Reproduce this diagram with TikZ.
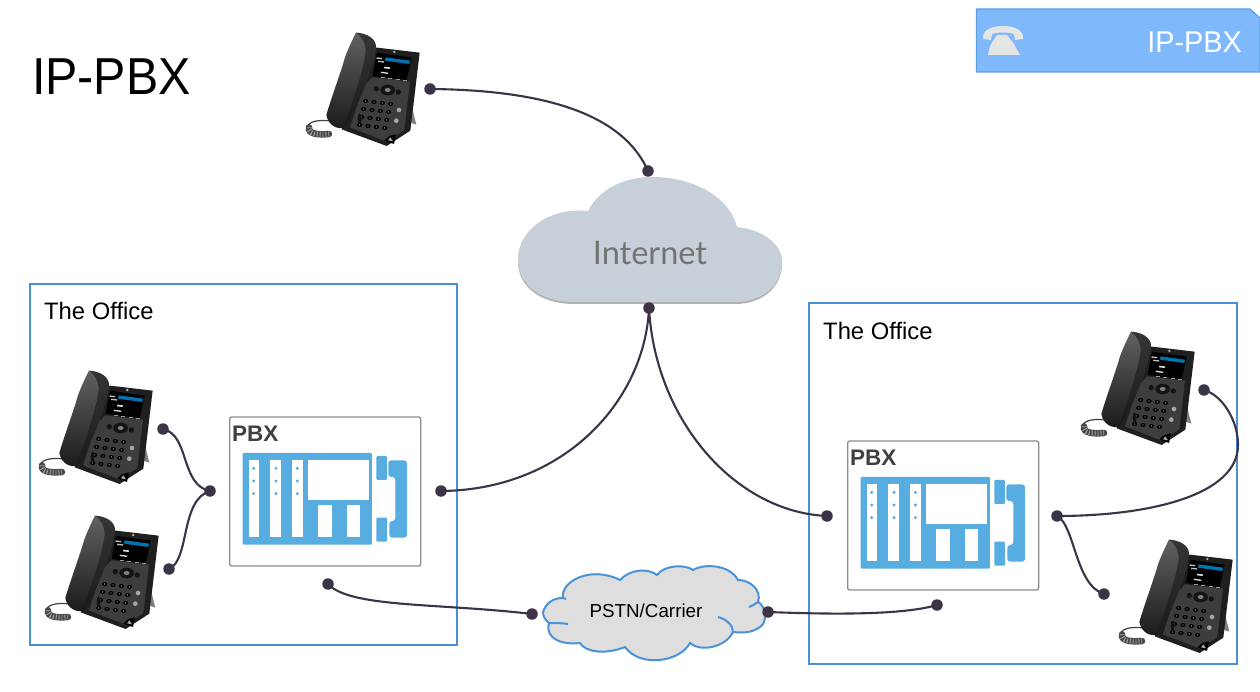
\documentclass[tikz,border=0pt]{standalone}
\usepackage{fontspec}
\setmainfont{Liberation Sans}
\newfontfamily\latofont{Lato}
\usetikzlibrary{calc}
\definecolor{wire}{HTML}{3D3346}
\definecolor{officeblue}{HTML}{4A90D9}
\definecolor{pbxblue}{HTML}{57ADE0}
\definecolor{cloudgrey}{HTML}{C7D0D8}
\definecolor{banner}{HTML}{7FB8FB}
\definecolor{bannerline}{HTML}{5FA0E0}
\definecolor{pstnfill}{HTML}{DEDEDE}
\definecolor{pstnline}{HTML}{4A93D8}
\tikzset{
  x=1pt,y=-1pt,
  office/.style={draw=officeblue,line width=2.2pt,fill=white},
  wireline/.style={draw=wire,line width=2.1pt},
  enddot/.style={circle,fill=wire,inner sep=0pt,minimum size=11.5pt},
  officelabel/.style={anchor=west,inner sep=0pt,font=\fontsize{23.8}{26}\selectfont,text=black},
  pstnstroke/.style={draw=pstnline,line width=2pt},
  phone/.pic={
    % coiled cord
    \draw[black!75,line width=1.2pt] (110,303) .. controls (80,300) and (45,300) .. (37,320);
    \draw[black!72,line width=6.5pt,line cap=round] (42,322) .. controls (38,342) and (70,345) .. (102,342);
    \draw[black!35,line width=5pt,dash pattern=on 0.9pt off 2pt] (42,322) .. controls (38,342) and (70,345) .. (102,342);
    % stand
    \fill[black!50] (345,238) -- (364,314) -- (322,300) -- (338,288) -- cycle;
    % body
    \fill[black!88] (238,82) -- (374,98) -- (346,332) -- (275,378) -- (140,328) -- (180,200) -- cycle;
    \fill[black!76] (232,172) -- (345,185) -- (328,330) -- (275,365) -- (165,322) -- (205,200) -- cycle;
    % screen
    \fill[black] (246,98) -- (350,113) -- (335,180) -- (233,168) -- cycle;
    \fill[blue!35!cyan!70!black] (272,112) -- (345,122) -- (343,132) -- (270,122) -- cycle;
    \fill[black!25] (245,112) -- (262,114) -- (261,118) -- (244,116) -- cycle;
    \fill[black!25] (250,122) -- (268,124) -- (267,128) -- (249,126) -- cycle;
    \fill[black!15] (268,140) -- (285,142) -- (284,147) -- (267,145) -- cycle;
    \fill[black!15] (258,155) -- (280,158) -- (279,162) -- (257,159) -- cycle;
    \fill[black!30] (298,96) circle (4);
    \foreach \s in {0,1,2,3}{\fill[black!40] ($(258,172)+(\s*22,\s*3)$) rectangle ++(12,3);}
    % navigation
    \fill[black!92] (278,210) ellipse (22 and 16);
    \fill[black!50] (278,210) ellipse (9 and 6);
    \fill[black!92] (244,206) circle (8);
    \fill[black!92] (310,216) circle (8);
    % keys
    \foreach \r in {0,1,2,3}{\foreach \c in {0,1,2,3}{
      \fill[black] ($(212,243)+(\c*25,\c*3)+(\r*-6,\r*24)$) ellipse (8 and 6);
      \fill[black!35] ($(212,243)+(\c*25,\c*3)+(\r*-6,\r*24)$) circle (2);
    }}
    \fill[black!92] (194,296) ellipse (6 and 16);
    \fill[black!35] (312,270) circle (7);
    \fill[black!35] (304,302) circle (7);
    \fill[black] (283,348) -- (303,343) -- (297,372) -- (268,362) -- cycle;
    \fill[black!35] (286,352) -- (294,364) -- (279,361) -- cycle;
    % handset
    \shade[left color=black!62,right color=black!90,shading angle=0] (183,38) .. controls (215,40) and (242,55) .. (243,80)
      .. controls (235,150) and (185,270) .. (148,322)
      .. controls (130,330) and (100,318) .. (94,285)
      .. controls (110,230) and (140,150) .. (150,112) .. controls (160,85) and (172,60) .. cycle;
    \fill[black!90,opacity=.6] (183,38) .. controls (215,40) and (242,55) .. (243,80)
      .. controls (235,150) and (185,270) .. (148,322) .. controls (165,260) and (205,160) .. (212,95) .. controls (212,70) and (200,48) .. cycle;
  },
  pbxunit/.pic={
    \draw[black!45,fill=white,line width=1.3pt,rounded corners=2pt] (29,21) rectangle (602,468);
    \fill[pbxblue,rounded corners=1pt] (68,129) rectangle (456,404);
    \fill[white] (86,150) rectangle (118,381);
    \fill[white] (151,150) rectangle (183,381);
    \fill[white] (217,150) rectangle (248,381);
    \fill[white] (265,150) rectangle (446,271);
    \fill[white] (293,285) rectangle (335,382);
    \fill[white] (380,285) rectangle (420,382);
    \foreach \x in {101,168,232}{\foreach \y in {175,213,251}{
      \fill[pbxblue] (\x,\y) circle (5);
    }}
    \fill[pbxblue,rounded corners=1pt] (469,138) rectangle (501,210);
    \fill[pbxblue,rounded corners=1pt] (469,323) rectangle (501,395);
    \fill[pbxblue,rounded corners=3pt] (505,151) -- (561,151) -- (561,383) -- (508,383) -- (508,333) -- (526,333) -- (526,201) -- (505,201) -- cycle;
  }
}
\begin{document}
\begin{tikzpicture}
\useasboundingbox[fill=white] (0,0) rectangle (1260,692);
% offices
\node[office,minimum width=427pt,minimum height=361pt,inner sep=0pt] (officeL) at (243.5,464.5) {};
\node[office,minimum width=428pt,minimum height=361pt,inner sep=0pt] (officeR) at (1023,483.5) {};
\node[officelabel] (officeLtext) at (44,311) {The Office};
\node[officelabel] (officeRtext) at (823,331) {The Office};
% title
\node[anchor=base west,inner sep=0pt,xscale=0.93,font=\fontsize{52}{56}\selectfont] (title) at (32,95) {IP-PBX};
% banner
\fill[banner,draw=bannerline,line width=1.2pt] (976.5,9) -- (1250,9) -- (1260,18) -- (1260,72) -- (976.5,72) -- cycle;
\node[anchor=base east,inner sep=0pt,text=white,xscale=0.96,font=\fontsize{30}{32}\selectfont] (bannertext) at (1242,53) {IP-PBX};
\fill[black!10] (988,55) -- (990,46) .. controls (992,42) and (995,38) .. (997,35) -- (1007,35) .. controls (1010,39) and (1013,42) .. (1015,46) -- (1020,55) -- cycle;
\fill[black!10] (983,39) .. controls (982,31) and (990,26) .. (1003,26) .. controls (1016,26) and (1024,31) .. (1023,39) -- (1015,40) -- (1014,34) .. controls (1008,32) and (998,32) .. (992,34) -- (991,40) -- cycle;
% phones
\pic[scale=0.3333] at (295,20) {phone};
\pic[scale=0.3333] at (28,358) {phone};
\pic[scale=0.3333] at (34,503) {phone};
\pic[scale=0.3333] at (1070,319) {phone};
\pic[scale=0.3333] at (1108,527) {phone};
% PBX units
\pic[scale=0.3333] at (220,410) {pbxunit};
\pic[scale=0.3333] at (838,434) {pbxunit};
\node[anchor=base west,inner sep=0pt,text=black!75,font=\bfseries\fontsize{22.5}{25}\selectfont] (pbxLtext) at (232,441) {PBX};
\node[anchor=base west,inner sep=0pt,text=black!75,font=\bfseries\fontsize{22.5}{25}\selectfont] (pbxRtext) at (850,465) {PBX};
% Internet cloud
\fill[black!30] (575,304) .. controls (535,304) and (517,282) .. (518,260) .. controls (519,230) and (552,209) .. (588,213)
  .. controls (600,190) and (625,179) .. (652,179) .. controls (695,179) and (730,200) .. (737,229)
  .. controls (765,232) and (783,248) .. (782,265) .. controls (781,288) and (762,304) .. (735,304) -- cycle;
\fill[cloudgrey] (575,302) .. controls (535,302) and (517,280) .. (518,258) .. controls (519,228) and (552,207) .. (588,211)
  .. controls (600,188) and (625,177) .. (652,177) .. controls (695,177) and (730,198) .. (737,227)
  .. controls (765,230) and (783,246) .. (782,263) .. controls (781,286) and (762,302) .. (735,302) -- cycle;
\node[text=black!55,inner sep=0pt,font=\latofont\fontsize{32.5}{36}\selectfont] (internet) at (650,253) {Internet};
% PSTN cloud
\filldraw[pstnstroke,fill=pstnfill]
  (543,612) .. controls (546,603) and (553,598) .. (563,598)
  .. controls (560,582) and (590,565) .. (620,580)
  .. controls (630,569) and (648,568) .. (657,575)
  .. controls (664,565) and (685,564) .. (693,570)
  .. controls (705,563) and (730,565) .. (738,580)
  .. controls (750,580) and (762,590) .. (758,602)
  .. controls (766,606) and (768,622) .. (760,627)
  .. controls (752,633) and (742,633) .. (733,632)
  .. controls (725,648) and (700,652) .. (690,643)
  .. controls (680,662) and (640,668) .. (625,647)
  .. controls (605,655) and (585,652) .. (580,643)
  .. controls (565,645) and (544,640) .. (549,623)
  .. controls (545,620) and (543,616) .. cycle;
\draw[pstnstroke] (549,623) .. controls (556,623) and (562,623) .. (568,624);
\draw[pstnstroke] (563,598) -- (566,599);
\draw[pstnstroke] (749,607) .. controls (752,606) and (755,604) .. (758,602);
\draw[pstnstroke] (718,617) .. controls (726,619) and (733,625) .. (733,632);
\node[inner sep=0pt,font=\fontsize{18.8}{20}\selectfont] (pstn) at (646,611) {PSTN/Carrier};
% endpoints
\node[enddot] (a1) at (430,89) {};
\node[enddot] (a2) at (648,171) {};
\node[enddot] (b0) at (649,308) {};
\node[enddot] (b1) at (441,491) {};
\node[enddot] (b2) at (827,516) {};
\node[enddot] (c1) at (163,429) {};
\node[enddot] (c2) at (169,569) {};
\node[enddot] (c0) at (210,491) {};
\node[enddot] (d0) at (1057,516) {};
\node[enddot] (d1) at (1204,390) {};
\node[enddot] (d2) at (1104,594) {};
\node[enddot] (e1) at (328,584) {};
\node[enddot] (e2) at (532,614) {};
\node[enddot] (f1) at (768,612) {};
\node[enddot] (f2) at (937,605) {};
% connectors
\draw[wireline] (a1.center) .. controls (540,90) and (622,112) .. (a2.center);
\draw[wireline] (b0.center) .. controls (645,400) and (565,490) .. (b1.center);
\draw[wireline] (b0.center) .. controls (655,420) and (735,512) .. (b2.center);
\draw[wireline] (c1.center) .. controls (190,435) and (180,485) .. (c0.center);
\draw[wireline] (c2.center) .. controls (190,560) and (180,500) .. (c0.center);
\draw[wireline] (d0.center) .. controls (1150,516) and (1238,495) .. (1238,445) .. controls (1238,420) and (1222,395) .. (d1.center);
\draw[wireline] (d0.center) .. controls (1075,525) and (1075,585) .. (d2.center);
\draw[wireline] (e1.center) .. controls (350,608) and (440,603) .. (e2.center);
\draw[wireline] (f1.center) .. controls (820,614) and (900,616) .. (f2.center);
\end{tikzpicture}
\end{document}
